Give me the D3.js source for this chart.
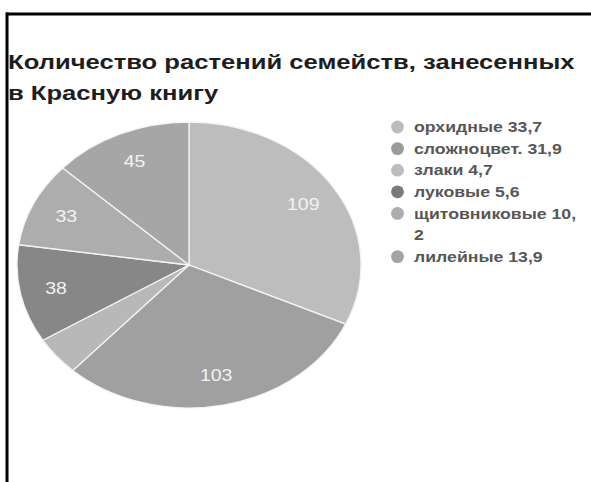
<!DOCTYPE html>
<html>
<head>
<meta charset="utf-8">
<script src="https://cdn.jsdelivr.net/npm/d3@7"></script>
<style>
  html, body { margin: 0; padding: 0; background: #fff; }
  svg { display: block; }
</style>
</head>
<body>
<svg id="chart" width="591" height="482"></svg>
<script>
// Plant families listed in the Red Book
const categories = ["орхидные", "сложноцвет.", "злаки", "луковые", "щитовниковые", "лилейные"];
// Number of species per family (slice values)
const speciesCounts = [109, 103, 15, 38, 33, 45];
// Share stated in the legend, as written
const legendShares = ["33,7", "31,9", "4,7", "5,6", "10,\n2", "13,9"];
// Which slices carry a value label
const showValue = [true, true, false, true, true, true];
const sliceColors = ["#bdbdbd", "#a0a0a0", "#b8b8b8", "#878787", "#adadad", "#a6a6a6"];
const legendColors = ["#bcbcbc", "#9a9a9a", "#bdbdbd", "#7a7a7a", "#acacac", "#a3a3a3"];

const svg = d3.select("#chart");
const W = 591, H = 482;
const FONT = "Arial, 'Liberation Sans', sans-serif";
const XS = 1.22; // horizontal stretch applied to the whole layout's lettering

// frame: top and left rules
svg.append("line").attr("x1", 6).attr("x2", W).attr("y1", 14).attr("y2", 14)
  .attr("stroke", "#000").attr("stroke-width", 3);
svg.append("line").attr("x1", 7).attr("x2", 7).attr("y1", 12.5).attr("y2", H)
  .attr("stroke", "#000").attr("stroke-width", 3);

// title
const titleLines = ["Количество растений семейств, занесенных", "в Красную книгу"];
titleLines.forEach((t, k) => {
  svg.append("text")
    .attr("transform", `translate(8,${69 + k * 31}) scale(${XS},1)`)
    .attr("font-family", FONT)
    .attr("font-size", 21).attr("font-weight", "bold").attr("fill", "#1e1e1e")
    .text(t);
});

// pie, drawn on a unit circle and stretched to an ellipse
const cx = 189, cy = 265, rx = 172, ry = 143;
const pie = d3.pie().sort(null).value(d => d.value);
const data = categories.map((c, i) => ({ name: c, value: speciesCounts[i], i }));
const arcs = pie(data);
const R = 100;
const arc = d3.arc().innerRadius(0).outerRadius(R);

const g = svg.append("g").attr("transform", `translate(${cx},${cy}) scale(${rx / R},${ry / R})`);
g.selectAll("path").data(arcs).join("path")
  .attr("d", arc)
  .attr("fill", d => sliceColors[d.data.i])
  .attr("stroke", "#f4f4f4")
  .attr("stroke-width", 1.3)
  .attr("vector-effect", "non-scaling-stroke");

// value labels
const labelArc = d3.arc().innerRadius(R * 0.79).outerRadius(R * 0.79);
svg.append("g").selectAll("text").data(arcs.filter(d => showValue[d.data.i])).join("text")
  .attr("transform", d => {
    const [x, y] = labelArc.centroid(d);
    return `translate(${cx + x * rx / R},${cy + y * ry / R}) scale(${XS},1)`;
  })
  .attr("dy", "0.36em")
  .attr("text-anchor", "middle")
  .attr("font-family", FONT)
  .attr("font-size", 16)
  .attr("fill", "#f2f2f2")
  .text(d => d.data.value);

// legend
const lx = 397.5, ly0 = 127, step = 21.6;
let row = 0;
categories.forEach((c, i) => {
  const y = ly0 + row * step;
  svg.append("circle").attr("cx", lx).attr("cy", y).attr("r", 6.4).attr("fill", legendColors[i]);
  const lines = (c + " " + legendShares[i]).split("\n");
  lines.forEach((t, k) => {
    svg.append("text")
      .attr("transform", `translate(414,${y + k * step}) scale(${XS},1)`)
      .attr("dy", "0.36em")
      .attr("font-family", FONT)
      .attr("font-size", 14.5).attr("font-weight", "bold").attr("fill", "#575757")
      .text(t);
  });
  row += lines.length;
});
</script>
</body>
</html>
